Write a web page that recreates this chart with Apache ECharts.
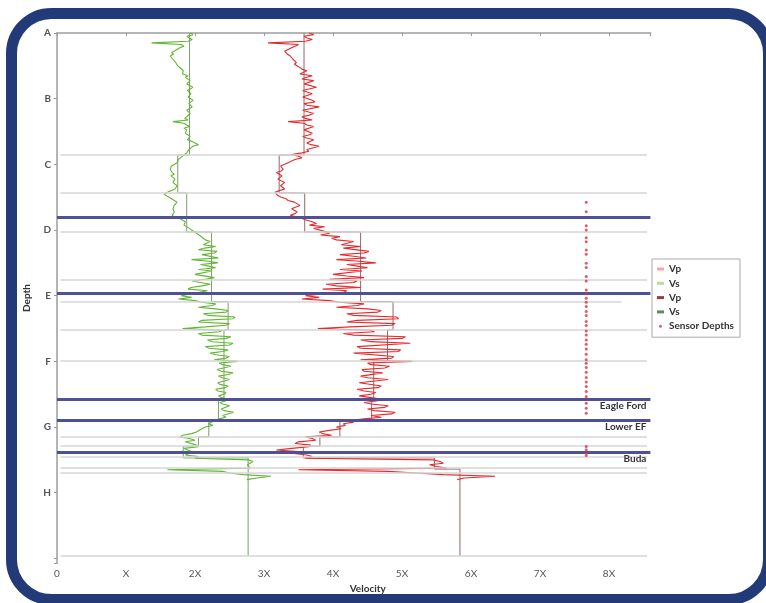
<!DOCTYPE html>
<html>
<head>
<meta charset="utf-8">
<script src="https://cdn.jsdelivr.net/npm/echarts@6/dist/echarts.min.js"></script>
<style>
html, body { margin: 0; padding: 0; background: #fff; }
#log-chart { width: 766px; height: 603px; }
</style>
</head>
<body>
<div id="log-chart"></div>
<script>
// depth tick letters (0..7) and velocity tick labels (0..8)
const depthLetters = ['A', 'B', 'C', 'D', 'E', 'F', 'G', 'H']
const velocityTicks = ['0', 'X', '2X', '3X', '4X', '5X', '6X', '7X', '8X']

// logs are sampled every 0.025 depth units starting at A
const sampleStep = 0.025
const vsLog = [
    1.93, 1.97, 1.88, 1.92, 1.96, 1.90, 1.37, 1.80, 1.84, 1.78,
    1.74, 1.70, 1.66, 1.69, 1.64, 1.62, 1.68, 1.66, 1.72, 1.70,
    1.75, 1.78, 1.80, 1.83, 1.85, 1.82, 1.90, 1.86, 1.87, 1.93,
    1.93, 1.88, 1.90, 1.97, 1.96, 1.89, 1.88, 1.94, 1.95, 1.90,
    1.92, 1.97, 1.98, 1.91, 1.90, 1.96, 1.94, 1.88, 1.86, 1.93,
    1.95, 1.88, 1.85, 1.90, 1.68, 1.84, 1.88, 1.92, 1.84, 1.88,
    1.90, 1.86, 1.85, 1.93, 1.92, 1.89, 1.96, 2.00, 2.05, 1.97,
    1.95, 1.91, 1.92, 1.88, 1.85, 1.82, 1.80, 1.76, 1.78, 1.74,
    1.72, 1.66, 1.68, 1.64, 1.62, 1.67, 1.70, 1.65, 1.66, 1.71,
    1.72, 1.68, 1.70, 1.74, 1.76, 1.71, 1.72, 1.60, 1.55, 1.58,
    1.60, 1.66, 1.70, 1.74, 1.76, 1.70, 1.72, 1.68, 1.66, 1.70,
    1.72, 1.67, 1.70, 1.78, 1.82, 1.86, 1.88, 1.84, 1.86, 1.92,
    1.95, 1.99, 2.00, 2.06, 2.08, 2.12, 2.15, 2.22, 2.22, 2.12,
    2.30, 2.14, 2.05, 2.32, 2.28, 2.10, 2.12, 2.34, 1.95, 2.20,
    2.33, 2.08, 2.20, 2.30, 2.05, 2.24, 2.25, 2.00, 1.98, 2.28,
    2.15, 1.96, 1.95, 2.22, 2.10, 1.94, 1.90, 2.18, 2.05, 1.92,
    1.80, 1.95, 1.76, 2.00, 2.10, 2.30, 2.25, 2.05, 2.30, 2.48,
    2.45, 2.12, 2.20, 2.58, 2.55, 2.10, 2.05, 2.50, 2.45, 2.15,
    1.82, 2.40, 2.35, 2.05, 2.10, 2.52, 2.45, 2.18, 2.25, 2.55,
    2.50, 2.15, 2.20, 2.48, 2.40, 2.22, 2.30, 2.50, 2.45, 2.28,
    2.62, 2.35, 2.40, 2.52, 2.50, 2.32, 2.38, 2.55, 2.48, 2.34,
    2.40, 2.50, 2.52, 2.33, 2.36, 2.48, 2.44, 2.30, 2.33, 2.45,
    2.42, 2.34, 2.38, 2.48, 2.45, 2.36, 2.40, 2.50, 2.48, 2.38,
    2.42, 2.56, 2.55, 2.40, 2.45, 2.35, 2.28, 2.24, 2.20, 2.26,
    2.15, 2.10, 2.08, 2.02, 1.95, 1.82, 1.78, 1.92, 2.00, 1.86,
    1.88, 2.02, 2.05, 1.84, 1.85, 1.96, 1.95, 1.86, 2.05, 2.00,
    2.78, 2.84, 2.82, 2.76, 2.75, 2.80, 1.60, 2.40, 2.50, 2.70,
    3.10, 2.90, 2.75
]
const vpLog = [
    3.65, 3.72, 3.58, 3.62, 3.70, 3.60, 3.06, 3.50, 3.45, 3.40,
    3.35, 3.30, 3.30, 3.34, 3.38, 3.36, 3.42, 3.40, 3.47, 3.44,
    3.45, 3.52, 3.55, 3.62, 3.60, 3.52, 3.70, 3.62, 3.55, 3.72,
    3.72, 3.58, 3.60, 3.76, 3.75, 3.56, 3.58, 3.70, 3.68, 3.56,
    3.55, 3.70, 3.74, 3.58, 3.62, 3.80, 3.78, 3.56, 3.58, 3.72,
    3.66, 3.55, 3.60, 3.70, 3.35, 3.58, 3.62, 3.72, 3.70, 3.58,
    3.58, 3.70, 3.66, 3.56, 3.62, 3.72, 3.74, 3.62, 3.68, 3.80,
    3.78, 3.62, 3.65, 3.55, 3.40, 3.50, 3.55, 3.45, 3.40, 3.35,
    3.30, 3.24, 3.22, 3.28, 3.25, 3.18, 3.18, 3.26, 3.28, 3.20,
    3.22, 3.30, 3.30, 3.24, 3.26, 3.30, 3.22, 3.16, 3.14, 3.20,
    3.25, 3.32, 3.35, 3.44, 3.42, 3.52, 3.50, 3.40, 3.38, 3.48,
    3.45, 3.38, 3.40, 3.55, 3.62, 3.70, 3.76, 3.66, 3.88, 3.72,
    3.72, 3.90, 3.95, 3.82, 4.10, 3.98, 4.05, 4.30, 4.30, 4.12,
    4.40, 4.15, 4.15, 4.52, 4.45, 4.10, 4.30, 4.48, 4.05, 4.38,
    4.62, 4.20, 4.35, 4.50, 4.10, 4.42, 4.40, 4.00, 4.20, 4.45,
    3.95, 4.35, 4.30, 3.90, 4.05, 4.40, 3.85, 4.20, 4.15, 3.85,
    3.60, 3.80, 3.55, 3.95, 4.10, 4.45, 4.35, 4.05, 4.50, 4.70,
    4.65, 4.20, 4.30, 4.92, 4.95, 4.35, 4.20, 4.90, 4.85, 4.25,
    3.78, 4.55, 4.60, 4.15, 4.30, 5.05, 5.00, 4.40, 4.55, 5.12,
    5.10, 4.35, 4.40, 4.98, 4.95, 4.30, 4.30, 4.88, 4.85, 4.40,
    5.15, 4.50, 4.55, 4.82, 4.75, 4.42, 4.45, 4.72, 4.70, 4.40,
    4.50, 4.80, 4.80, 4.38, 4.40, 4.70, 4.65, 4.35, 4.45, 4.62,
    4.55, 4.38, 4.40, 4.70, 4.65, 4.45, 4.55, 4.80, 4.75, 4.50,
    4.60, 4.90, 4.85, 4.55, 4.70, 4.45, 4.25, 4.30, 4.15, 4.18,
    4.05, 4.12, 3.95, 3.80, 3.85, 3.98, 3.60, 3.70, 3.75, 3.50,
    3.45, 3.68, 3.65, 3.40, 3.18, 3.55, 3.40, 3.62, 3.70, 3.60,
    5.45, 5.55, 5.60, 5.40, 5.50, 5.65, 3.50, 4.80, 5.20, 5.60,
    6.35, 5.90, 5.80
]

// blocked (layer) velocities: top depth of each layer and its value
const blockBase = 7.96
const vsBlockTops = [0, 1.857, 2.435, 3.03, 4.09, 4.52, 5.57, 5.89, 6.15, 6.29, 6.47]
const vsBlockValues = [1.92, 1.75, 1.88, 2.24, 2.48, 2.42, 2.34, 2.20, 2.05, 1.83, 2.77]
const vpBlockTops = [0, 1.857, 2.435, 3.03, 4.09, 4.52, 4.99, 5.57, 5.89, 6.15, 6.29, 6.47, 6.64]
const vpBlockValues = [3.58, 3.22, 3.59, 4.40, 4.87, 4.79, 4.59, 4.56, 4.10, 3.81, 3.57, 5.47, 5.84]

// sensor positions
const sensorVelocity = 7.67
const sensorDepths = [
    2.577, 2.720, 2.933, 2.998, 3.116, 3.177, 3.303, 3.368, 3.505, 3.572,
    3.709, 3.775, 3.912, 3.962, 4.038, 4.099, 4.166, 4.242, 4.303, 4.394,
    4.455, 4.536, 4.597, 4.673, 4.738, 4.810, 4.890, 4.977, 5.027, 5.094,
    5.164, 5.244, 5.315, 5.384, 5.460, 5.536, 5.636, 5.712, 5.788,
    6.297, 6.347, 6.397, 6.434
]

// thin grey layer boundaries, and where each one ends
const layerDepths = [1.857, 2.435, 3.029, 3.76, 4.094, 4.52, 4.99, 6.15, 6.286, 6.45, 6.62, 6.70, 7.96]
const layerEnds = [8.55, 8.55, 8.55, 8.55, 8.18, 8.55, 8.55, 8.55, 8.55, 8.55, 8.55, 8.55, 8.55]

// formation tops (thick lines)
const topDepths = [2.80, 3.96, 5.57, 5.89, 6.38]
const topNames = ['', '', 'Eagle Ford', 'Lower EF', 'Buda']

function blockLine(tops, values) {
    let pts = []
    for (let i = 0; i < tops.length; i++) {
        let bottom = i + 1 < tops.length ? tops[i + 1] : blockBase
        pts.push([values[i], tops[i]])
        pts.push([values[i], bottom])
    }
    return pts
}

let chartDom = document.getElementById('log-chart')
let myChart = echarts.init(chartDom)

const font = 'Lato, "Open Sans", sans-serif'

let option = {
    animation: false,
    backgroundColor: '#fff',
    graphic: [{
        type: 'rect',
        shape: { x: 11.5, y: 13.5, width: 757, height: 586, r: 40 },
        style: { fill: null, stroke: '#233a78', lineWidth: 11 },
        z: 100
    }],
    grid: { left: 57, right: 115.6, top: 33, bottom: 40 },
    legend: {
        orient: 'vertical',
        left: 652,
        top: 259,
        padding: [4, 6, 5, 5],
        itemGap: 2.3,
        itemWidth: 7,
        itemHeight: 3,
        borderColor: '#aaa',
        borderWidth: 1,
        textStyle: { fontFamily: font, fontSize: 10, fontWeight: 'bold', color: '#333', lineHeight: 12 },
        data: [
            { name: 'Vp', icon: 'rect', itemStyle: { color: '#f3a5b5' } },
            { name: 'Vs', icon: 'rect', itemStyle: { color: '#b5e09a' } },
            { name: 'Vp ', icon: 'rect', itemStyle: { color: '#a03a3a' } },
            { name: 'Vs ', icon: 'rect', itemStyle: { color: '#4f9455' } },
            { name: 'Sensor Depths', icon: 'circle', itemStyle: { color: '#e03048' } }
        ]
    },
    xAxis: {
        type: 'value',
        min: 0,
        max: 8.6,
        interval: 1,
        name: 'Velocity',
        nameLocation: 'middle',
        nameGap: 18,
        nameTextStyle: { fontFamily: font, fontSize: 10, fontWeight: 'bold', color: '#333', padding: [0, 0, 0, 28] },
        axisLine: { lineStyle: { color: '#b5b5b5', width: 2 } },
        axisTick: { show: true, length: 3, lineStyle: { color: '#999' } },
        axisLabel: {
            fontFamily: font, fontSize: 10, color: '#555', margin: 6,
            formatter: v => Number.isInteger(v) ? velocityTicks[v] : ''
        },
        splitLine: { show: false }
    },
    yAxis: {
        type: 'value',
        inverse: true,
        min: 0,
        max: 8.07,
        interval: 1,
        name: 'Depth',
        nameLocation: 'middle',
        nameGap: 25,
        nameTextStyle: { fontFamily: font, fontSize: 10, fontWeight: 'bold', color: '#333' },
        axisLine: { show: true, lineStyle: { color: '#b5b5b5', width: 2 } },
        axisTick: { show: true, length: 3, lineStyle: { color: '#999' } },
        axisLabel: {
            fontFamily: font, fontSize: 10, fontWeight: 'bold', color: '#555', margin: 6,
            formatter: v => (Number.isInteger(v) && v < depthLetters.length) ? depthLetters[v] : ''
        },
        splitLine: { show: false }
    },
    series: [
        {
            name: 'layers',
            type: 'line',
            data: [],
            z: 1,
            markLine: {
                silent: true,
                symbol: 'none',
                label: { show: false },
                lineStyle: { color: '#d6d6d6', width: 1.5, type: 'solid' },
                data: layerDepths.map((d, i) => [{ coord: [0.05, d] }, { coord: [layerEnds[i], d] }])
            }
        },
        {
            name: 'Vp',
            type: 'line',
            showSymbol: false,
            z: 3,
            lineStyle: { color: '#9a6464', width: 1 },
            itemStyle: { color: '#9a6464' },
            data: blockLine(vpBlockTops, vpBlockValues)
        },
        {
            name: 'Vs',
            type: 'line',
            showSymbol: false,
            z: 3,
            lineStyle: { color: '#7d9d70', width: 1 },
            itemStyle: { color: '#7d9d70' },
            data: blockLine(vsBlockTops, vsBlockValues)
        },
        {
            name: 'Vp ',
            type: 'line',
            showSymbol: false,
            z: 4,
            lineStyle: { color: '#e52a2e', width: 1.1 },
            itemStyle: { color: '#e52a2e' },
            data: vpLog.map((v, i) => [v, i * sampleStep])
        },
        {
            name: 'Vs ',
            type: 'line',
            showSymbol: false,
            z: 4,
            lineStyle: { color: '#62b633', width: 1.1 },
            itemStyle: { color: '#62b633' },
            data: vsLog.map((v, i) => [v, i * sampleStep])
        },
        {
            name: 'Sensor Depths',
            type: 'scatter',
            symbol: 'circle',
            symbolSize: 3,
            z: 5,
            itemStyle: { color: '#e03048' },
            data: sensorDepths.map(d => [sensorVelocity, d])
        },
        {
            name: 'tops',
            type: 'line',
            data: [],
            z: 6,
            markLine: {
                silent: true,
                symbol: 'none',
                lineStyle: { color: '#4e5196', width: 3, type: 'solid' },
                label: {
                    show: true,
                    position: 'insideEndBottom',
                    distance: [4, 2],
                    fontFamily: font,
                    fontSize: 10,
                    fontWeight: 'bold',
                    color: '#333'
                },
                data: topDepths.map((d, i) => ({ yAxis: d, label: { formatter: topNames[i] } }))
            }
        }
    ]
}
myChart.setOption(option)
</script>
</body>
</html>
